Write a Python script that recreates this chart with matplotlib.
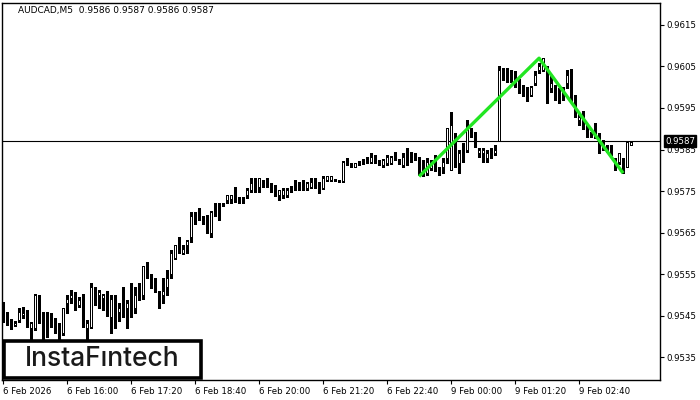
import matplotlib
matplotlib.use("Agg")
import matplotlib.pyplot as plt
from matplotlib.patches import Rectangle
import numpy as np

symbol_title = "AUDCAD,M5  0.9586 0.9587 0.9586 0.9587"

opens = [0.95479,0.95432,0.95439,0.95427,0.95439,0.95451,0.95459,0.95419,0.95419,0.95491,
0.95455,0.95457,0.95451,0.95439,0.95411,0.95407,0.95479,0.95491,0.95497,0.95475,
0.95499,0.95419,0.95423,0.95507,0.95499,0.95491,0.95491,0.95447,0.95499,0.95458,
0.95479,0.95467,0.95469,0.95467,0.95508,0.95499,0.95560,0.95540,0.95540,0.95499,
0.95499,0.95519,0.95550,0.95588,0.95609,0.95600,0.95620,0.95640,0.95679,0.95687,
0.95681,0.95690,0.95650,0.95707,0.95720,0.95718,0.95728,0.95730,0.95733,0.95729,
0.95725,0.95740,0.95752,0.95781,0.95760,0.95770,0.95766,0.95769,0.95760,0.95740,
0.95740,0.95740,0.95759,0.95769,0.95769,0.95769,0.95757,0.95760,0.95781,0.95769,
0.95757,0.95777,0.95777,0.95779,0.95776,0.95773,0.95821,0.95813,0.95809,0.95821,
0.95822,0.95829,0.95821,0.95826,0.95818,0.95813,0.95817,0.95817,0.95834,0.95825,
0.95813,0.95845,0.95842,0.95834,0.95829,0.95821,0.95793,0.95805,0.95817,0.95803,
0.95809,0.95829,0.95801,0.95889,0.95817,0.95849,0.95849,0.95891,0.95889,0.95841,
0.95841,0.95830,0.95849,0.95841,0.95871,0.96033,0.96027,0.96031,0.96030,0.96018,
0.96001,0.95989,0.95981,0.96010,0.96042,0.96042,0.96050,0.95999,0.96001,0.95989,
0.95998,0.96010,0.96042,0.95981,0.95921,0.95941,0.95889,0.95889,0.95889,0.95889,
0.95869,0.95861,0.95849,0.95829,0.95821,0.95829,0.95809,0.95861]

highs = [0.95483,0.95459,0.95441,0.95437,0.95467,0.95471,0.95463,0.95435,0.95503,0.95499,
0.95459,0.95459,0.95455,0.95443,0.95431,0.95467,0.95499,0.95511,0.95507,0.95495,
0.95503,0.95439,0.95528,0.95519,0.95511,0.95503,0.95510,0.95499,0.95500,0.95479,
0.95519,0.95487,0.95528,0.95519,0.95528,0.95570,0.95580,0.95550,0.95541,0.95509,
0.95540,0.95560,0.95608,0.95621,0.95640,0.95620,0.95631,0.95700,0.95700,0.95708,
0.95690,0.95691,0.95701,0.95720,0.95721,0.95722,0.95741,0.95741,0.95760,0.95736,
0.95736,0.95757,0.95781,0.95782,0.95782,0.95777,0.95781,0.95770,0.95765,0.95753,
0.95757,0.95757,0.95762,0.95777,0.95772,0.95777,0.95772,0.95781,0.95782,0.95772,
0.95785,0.95787,0.95787,0.95780,0.95777,0.95822,0.95829,0.95817,0.95818,0.95822,
0.95826,0.95833,0.95841,0.95837,0.95825,0.95826,0.95837,0.95835,0.95845,0.95827,
0.95841,0.95853,0.95845,0.95841,0.95833,0.95825,0.95829,0.95825,0.95837,0.95809,
0.95829,0.95902,0.95941,0.95890,0.95849,0.95865,0.95921,0.95901,0.95893,0.95853,
0.95853,0.95849,0.95853,0.95861,0.96050,0.96046,0.96046,0.96042,0.96038,0.96019,
0.96006,0.96001,0.96002,0.96038,0.96058,0.96071,0.96051,0.96030,0.96006,0.95998,
0.96001,0.96042,0.96043,0.95982,0.95937,0.95942,0.95909,0.95893,0.95913,0.95890,
0.95873,0.95862,0.95861,0.95830,0.95842,0.95830,0.95870,0.95870]

lows = [0.95435,0.95427,0.95417,0.95425,0.95435,0.95443,0.95423,0.95391,0.95415,0.95431,
0.95391,0.95399,0.95423,0.95407,0.95391,0.95403,0.95455,0.95479,0.95463,0.95471,
0.95423,0.95391,0.95419,0.95475,0.95467,0.95463,0.95450,0.95407,0.95419,0.95437,
0.95447,0.95419,0.95447,0.95457,0.95487,0.95489,0.95540,0.95516,0.95507,0.95467,
0.95479,0.95499,0.95540,0.95587,0.95600,0.95599,0.95600,0.95628,0.95671,0.95680,
0.95671,0.95648,0.95640,0.95690,0.95680,0.95714,0.95720,0.95720,0.95724,0.95720,
0.95720,0.95732,0.95748,0.95747,0.95748,0.95760,0.95760,0.95748,0.95739,0.95728,
0.95732,0.95736,0.95748,0.95752,0.95752,0.95752,0.95752,0.95757,0.95757,0.95745,
0.95755,0.95775,0.95775,0.95774,0.95772,0.95772,0.95813,0.95809,0.95808,0.95812,
0.95815,0.95817,0.95817,0.95817,0.95813,0.95809,0.95813,0.95815,0.95825,0.95815,
0.95809,0.95813,0.95821,0.95825,0.95789,0.95785,0.95789,0.95801,0.95797,0.95789,
0.95793,0.95817,0.95800,0.95809,0.95793,0.95821,0.95845,0.95881,0.95857,0.95833,
0.95821,0.95821,0.95829,0.95837,0.95870,0.96018,0.96013,0.96013,0.96001,0.95986,
0.95980,0.95968,0.95980,0.96006,0.96034,0.96038,0.95961,0.95989,0.95969,0.95961,
0.95970,0.95998,0.95968,0.95928,0.95909,0.95900,0.95880,0.95880,0.95877,0.95841,
0.95849,0.95845,0.95836,0.95801,0.95815,0.95793,0.95808,0.95860]

closes = [0.95439,0.95433,0.95419,0.95433,0.95459,0.95455,0.95427,0.95431,0.95499,0.95459,
0.95447,0.95447,0.95439,0.95419,0.95407,0.95467,0.95489,0.95499,0.95479,0.95487,
0.95427,0.95431,0.95519,0.95499,0.95507,0.95499,0.95457,0.95490,0.95447,0.95469,
0.95457,0.95479,0.95458,0.95499,0.95510,0.95569,0.95550,0.95528,0.95509,0.95489,
0.95509,0.95540,0.95600,0.95620,0.95611,0.95610,0.95630,0.95690,0.95681,0.95689,
0.95679,0.95660,0.95700,0.95709,0.95708,0.95720,0.95740,0.95740,0.95731,0.95727,
0.95727,0.95752,0.95769,0.95748,0.95781,0.95768,0.95764,0.95752,0.95740,0.95752,
0.95752,0.95752,0.95761,0.95757,0.95757,0.95757,0.95769,0.95772,0.95760,0.95748,
0.95781,0.95785,0.95786,0.95776,0.95775,0.95821,0.95820,0.95812,0.95817,0.95813,
0.95820,0.95828,0.95833,0.95824,0.95816,0.95825,0.95833,0.95833,0.95832,0.95817,
0.95833,0.95821,0.95840,0.95832,0.95801,0.95801,0.95821,0.95817,0.95801,0.95801,
0.95821,0.95901,0.95909,0.95821,0.95841,0.95841,0.95901,0.95893,0.95861,0.95849,
0.95849,0.95841,0.95833,0.95849,0.96042,0.96035,0.96025,0.96022,0.96006,0.95989,
0.95981,0.95969,0.96001,0.96030,0.96050,0.96070,0.95989,0.96010,0.95981,0.95981,
0.95973,0.96030,0.95969,0.95929,0.95929,0.95901,0.95881,0.95881,0.95881,0.95849,
0.95853,0.95849,0.95837,0.95817,0.95841,0.95809,0.95869,0.95869]

current_price = 0.9587
price_ticks = [0.9535, 0.9545, 0.9555, 0.9565, 0.9575, 0.9585, 0.9595, 0.9605, 0.9615]
time_tick_bars = [0, 16, 32, 48, 64, 80, 96, 112, 128, 144]
time_tick_labels = ["6 Feb 2026", "6 Feb 16:00", "6 Feb 17:20", "6 Feb 18:40", "6 Feb 20:00",
                    "6 Feb 21:20", "6 Feb 22:40", "9 Feb 00:00", "9 Feb 01:20", "9 Feb 02:40"]
pattern_bars = [104, 134, 155]
pattern_prices = [0.95785, 0.96070, 0.95793]

W, H = 700, 400
fig = plt.figure(figsize=(7, 4), dpi=100)
ax = fig.add_axes([2 / W, 20 / H, 657.5 / W, 377 / H])

x = np.arange(len(opens))
o = np.array(opens); h = np.array(highs); l = np.array(lows); c = np.array(closes)
up = c >= o

ax.vlines(x, l, h, color="black", lw=0.75, zorder=2, antialiased=False)
ax.bar(x, np.abs(c - o), bottom=np.minimum(o, c), width=0.5,
       color=np.where(up, "white", "black"), edgecolor="black", linewidth=0.72,
       zorder=3, antialiased=False)

ax.axhline(current_price, color="black", lw=0.8, zorder=1.5)
ax.plot(pattern_bars, pattern_prices, color="#22e622", lw=2.4, zorder=4,
        solid_capstyle="butt")

ax.set_xlim(-0.25, 164.1)
ax.set_ylim(0.952946, 0.962030)

ax.yaxis.tick_right()
ax.set_yticks(price_ticks)
ax.set_yticklabels([f"{p:.4f}" for p in price_ticks])
ax.set_xticks(time_tick_bars)
ax.set_xticklabels(time_tick_labels, ha="left")
ax.tick_params(axis="both", direction="out", length=3, width=0.8, labelsize=6.2,
               colors="black", pad=2)
for sp in ax.spines.values():
    sp.set_linewidth(1.0)

# current price label on right axis
ax.annotate(f"{current_price:.4f}", xy=(1.0, current_price),
            xycoords=("axes fraction", "data"), xytext=(4, 0), textcoords="offset points",
            va="center", ha="left", fontsize=6.2, color="white", zorder=10,
            bbox=dict(boxstyle="square,pad=0.15", fc="black", ec="black"),
            annotation_clip=False)

fig.text(18 / W, 1 - 10 / H, symbol_title, fontsize=6.5, va="center", ha="left")

# logo box
fig.add_artist(Rectangle((3.5 / W, 22 / H), 197 / W, 37.5 / H, transform=fig.transFigure,
                         fc="white", ec="black", lw=2.6, zorder=20))
fig.text(102 / W, 1 - 359.5 / H, "InstaF\u0131ntech", fontsize=19, ha="center", va="center",
         family="Inter", fontweight="medium", color="#1a1a1a", zorder=21)

fig.savefig("out.png", dpi=100)
